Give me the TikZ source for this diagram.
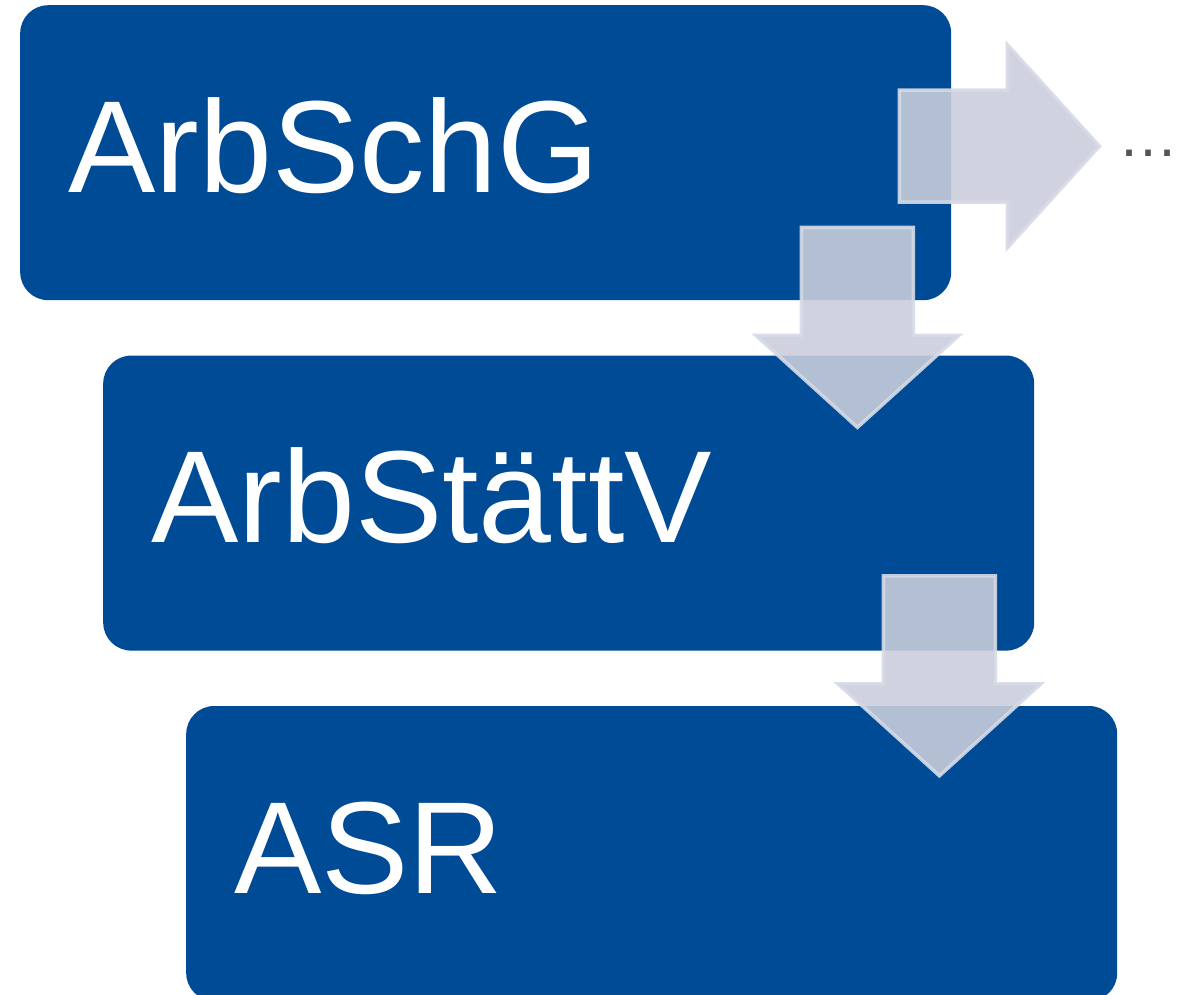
\documentclass[tikz,border=0pt]{standalone}
\usepackage{fontspec}
\setmainfont{Liberation Sans}
\usepackage{xcolor}
\usepackage{tikz}
\usetikzlibrary{positioning,calc}

\definecolor{lawblue}{RGB}{0,75,150}
\definecolor{arrowfill}{RGB}{202,206,219}
\definecolor{arrowline}{RGB}{214,218,230}
\definecolor{dotgray}{RGB}{85,85,85}

\begin{document}
\begin{tikzpicture}[
  x=1pt, y=1pt,
  node distance=55pt and 83pt,
  law/.style={fill=lawblue, rounded corners=28pt, anchor=north west,
              minimum width=931pt, minimum height=295pt,
              text width=835pt, align=left, inner xsep=48pt, inner ysep=0pt,
              text height=187pt, text depth=108pt, text=white,
              font=\fontsize{131}{131}\selectfont},
  flow/.style={fill=arrowfill, fill opacity=0.89, draw=arrowline,
               draw opacity=0.9, line width=3.5pt, line join=miter},
  blockarr/.pic={
    \path[flow] (0,56) -- (108,56) -- (108,101.5) -- (200,0)
      -- (108,-101.5) -- (108,-56) -- (0,-56) -- cycle;
  },
]
\useasboundingbox (0,0) rectangle (1189,-994);
\node[law] (schg) at (20,-5) {ArbSchG};
\node[law, below right=of schg.south west] (staettv) {ArbStättV};
\node[law, below right=of staettv.south west] (asr) {ASR};
\node[anchor=base west, text=dotgray, inner sep=0pt,
      font=\fontsize{60}{60}\selectfont] (more) at ($(schg.east)+(167,-4)$) {…};
\pic at ($(schg.east)+(-52,6.5)$) {blockarr};
\pic[rotate=-90] at ($(schg.south east)+(-94,73)$) {blockarr};
\pic[rotate=-90] at ($(staettv.south east)+(-95,75)$) {blockarr};
\end{tikzpicture}
\end{document}
